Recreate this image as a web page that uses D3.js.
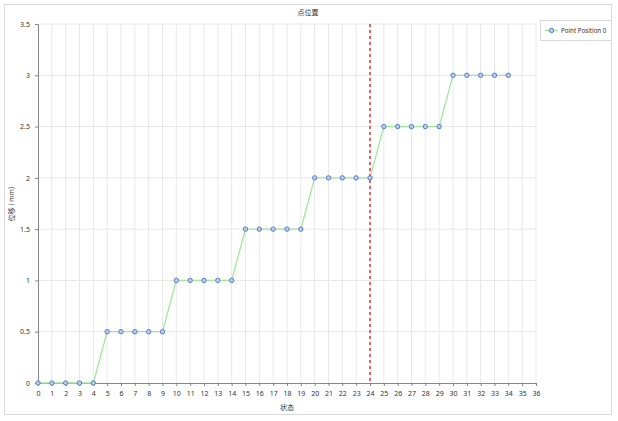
<!DOCTYPE html>
<html><head><meta charset="utf-8">
<script src="https://cdn.jsdelivr.net/npm/d3@7"></script>
<style>body{margin:0;background:#fff}svg{display:block}text{font-family:"Noto Sans CJK SC","Noto Sans",sans-serif;fill:#333}</style>
</head><body><svg id="c" width="618" height="421"></svg>
<script>
const title = "点位置";
const xLabel = "状态";
const yLabel = "位移 ( mm)";
const seriesName = "Point Position 0";
const xValues = [0,1,2,3,4,5,6,7,8,9,10,11,12,13,14,15,16,17,18,19,20,21,22,23,24,25,26,27,28,29,30,31,32,33,34];
const yValues = [0,0,0,0,0,0.5,0.5,0.5,0.5,0.5,1,1,1,1,1,1.5,1.5,1.5,1.5,1.5,2,2,2,2,2,2.5,2.5,2.5,2.5,2.5,3,3,3,3,3];
const markerX = 24;
const xTicks = d3.range(0, 37, 1);
const yTicks = [0,0.5,1,1.5,2,2.5,3,3.5];

const svg = d3.select("#c");
svg.append("rect").attr("x",4.5).attr("y",4.5).attr("width",607).attr("height",410)
  .attr("fill","#fff").attr("stroke","#d9d9d9");
const L=38,R=536,T=24,B=383;
const x = d3.scaleLinear().domain([0,36]).range([L,R]);
const y = d3.scaleLinear().domain([0,3.5]).range([B,T]);

// grid
svg.append("g").selectAll("line").data(xTicks.slice(1)).join("line")
  .attr("x1",d=>x(d)).attr("x2",d=>x(d)).attr("y1",T).attr("y2",B)
  .attr("stroke","#e8e8e8").attr("stroke-width",1);
svg.append("g").selectAll("line").data(yTicks.slice(1)).join("line")
  .attr("x1",L).attr("x2",R).attr("y1",d=>y(d)).attr("y2",d=>y(d))
  .attr("stroke","#e8e8e8").attr("stroke-width",1);

// axes
const xa = svg.append("g").attr("transform",`translate(0,${B})`)
  .call(d3.axisBottom(x).tickValues(xTicks).tickSize(3).tickPadding(5).tickFormat(d3.format("d")));
const ya = svg.append("g").attr("transform",`translate(${L},0)`)
  .call(d3.axisLeft(y).tickValues(yTicks).tickSize(3).tickPadding(5).tickFormat(d=>String(d)));
[xa,ya].forEach(g=>{
  g.select(".domain").attr("stroke","#868686");
  g.selectAll(".tick line").attr("stroke","#868686");
  g.selectAll("text").attr("font-size",7).attr("fill","#444").style("font-family","'Noto Sans',sans-serif");
});

// line
svg.append("path").datum(xValues.map((d,i)=>[d,yValues[i]]))
  .attr("d",d3.line().x(d=>x(d[0])).y(d=>y(d[1])))
  .attr("fill","none").attr("stroke","#9fe89a").attr("stroke-width",1.3);

// marker line
svg.append("line").attr("x1",x(markerX)).attr("x2",x(markerX)).attr("y1",T).attr("y2",B)
  .attr("stroke","#d63a3a").attr("stroke-width",1.5).attr("stroke-dasharray","3,3");

// points
svg.append("g").selectAll("circle").data(xValues).join("circle")
  .attr("cx",d=>x(d)).attr("cy",(d,i)=>y(yValues[i])).attr("r",2.2)
  .attr("fill","#b9cdf0").attr("stroke","#5a7cc6").attr("stroke-width",1);

// titles
svg.append("text").attr("x",308).attr("y",15).attr("text-anchor","middle").attr("font-size",7).text(title);
svg.append("text").attr("x",287).attr("y",410).attr("text-anchor","middle").attr("font-size",7).text(xLabel);
svg.append("text").attr("transform","translate(14,204) rotate(-90)").attr("text-anchor","middle").attr("font-size",7).text(yLabel);

// legend
const lg = svg.append("g");
lg.append("rect").attr("x",540.5).attr("y",20.5).attr("width",71).attr("height",20)
  .attr("fill","#fff").attr("stroke","#d9d9d9");
lg.append("line").attr("x1",545).attr("x2",558).attr("y1",30.5).attr("y2",30.5).attr("stroke","#9fe89a").attr("stroke-width",1.3);
lg.append("circle").attr("cx",551.5).attr("cy",30.5).attr("r",2.2).attr("fill","#b9cdf0").attr("stroke","#5a7cc6");
lg.append("text").attr("x",561).attr("y",33).attr("font-size",6.2).style("font-family","'Noto Sans',sans-serif").text(seriesName);
</script></body></html>
